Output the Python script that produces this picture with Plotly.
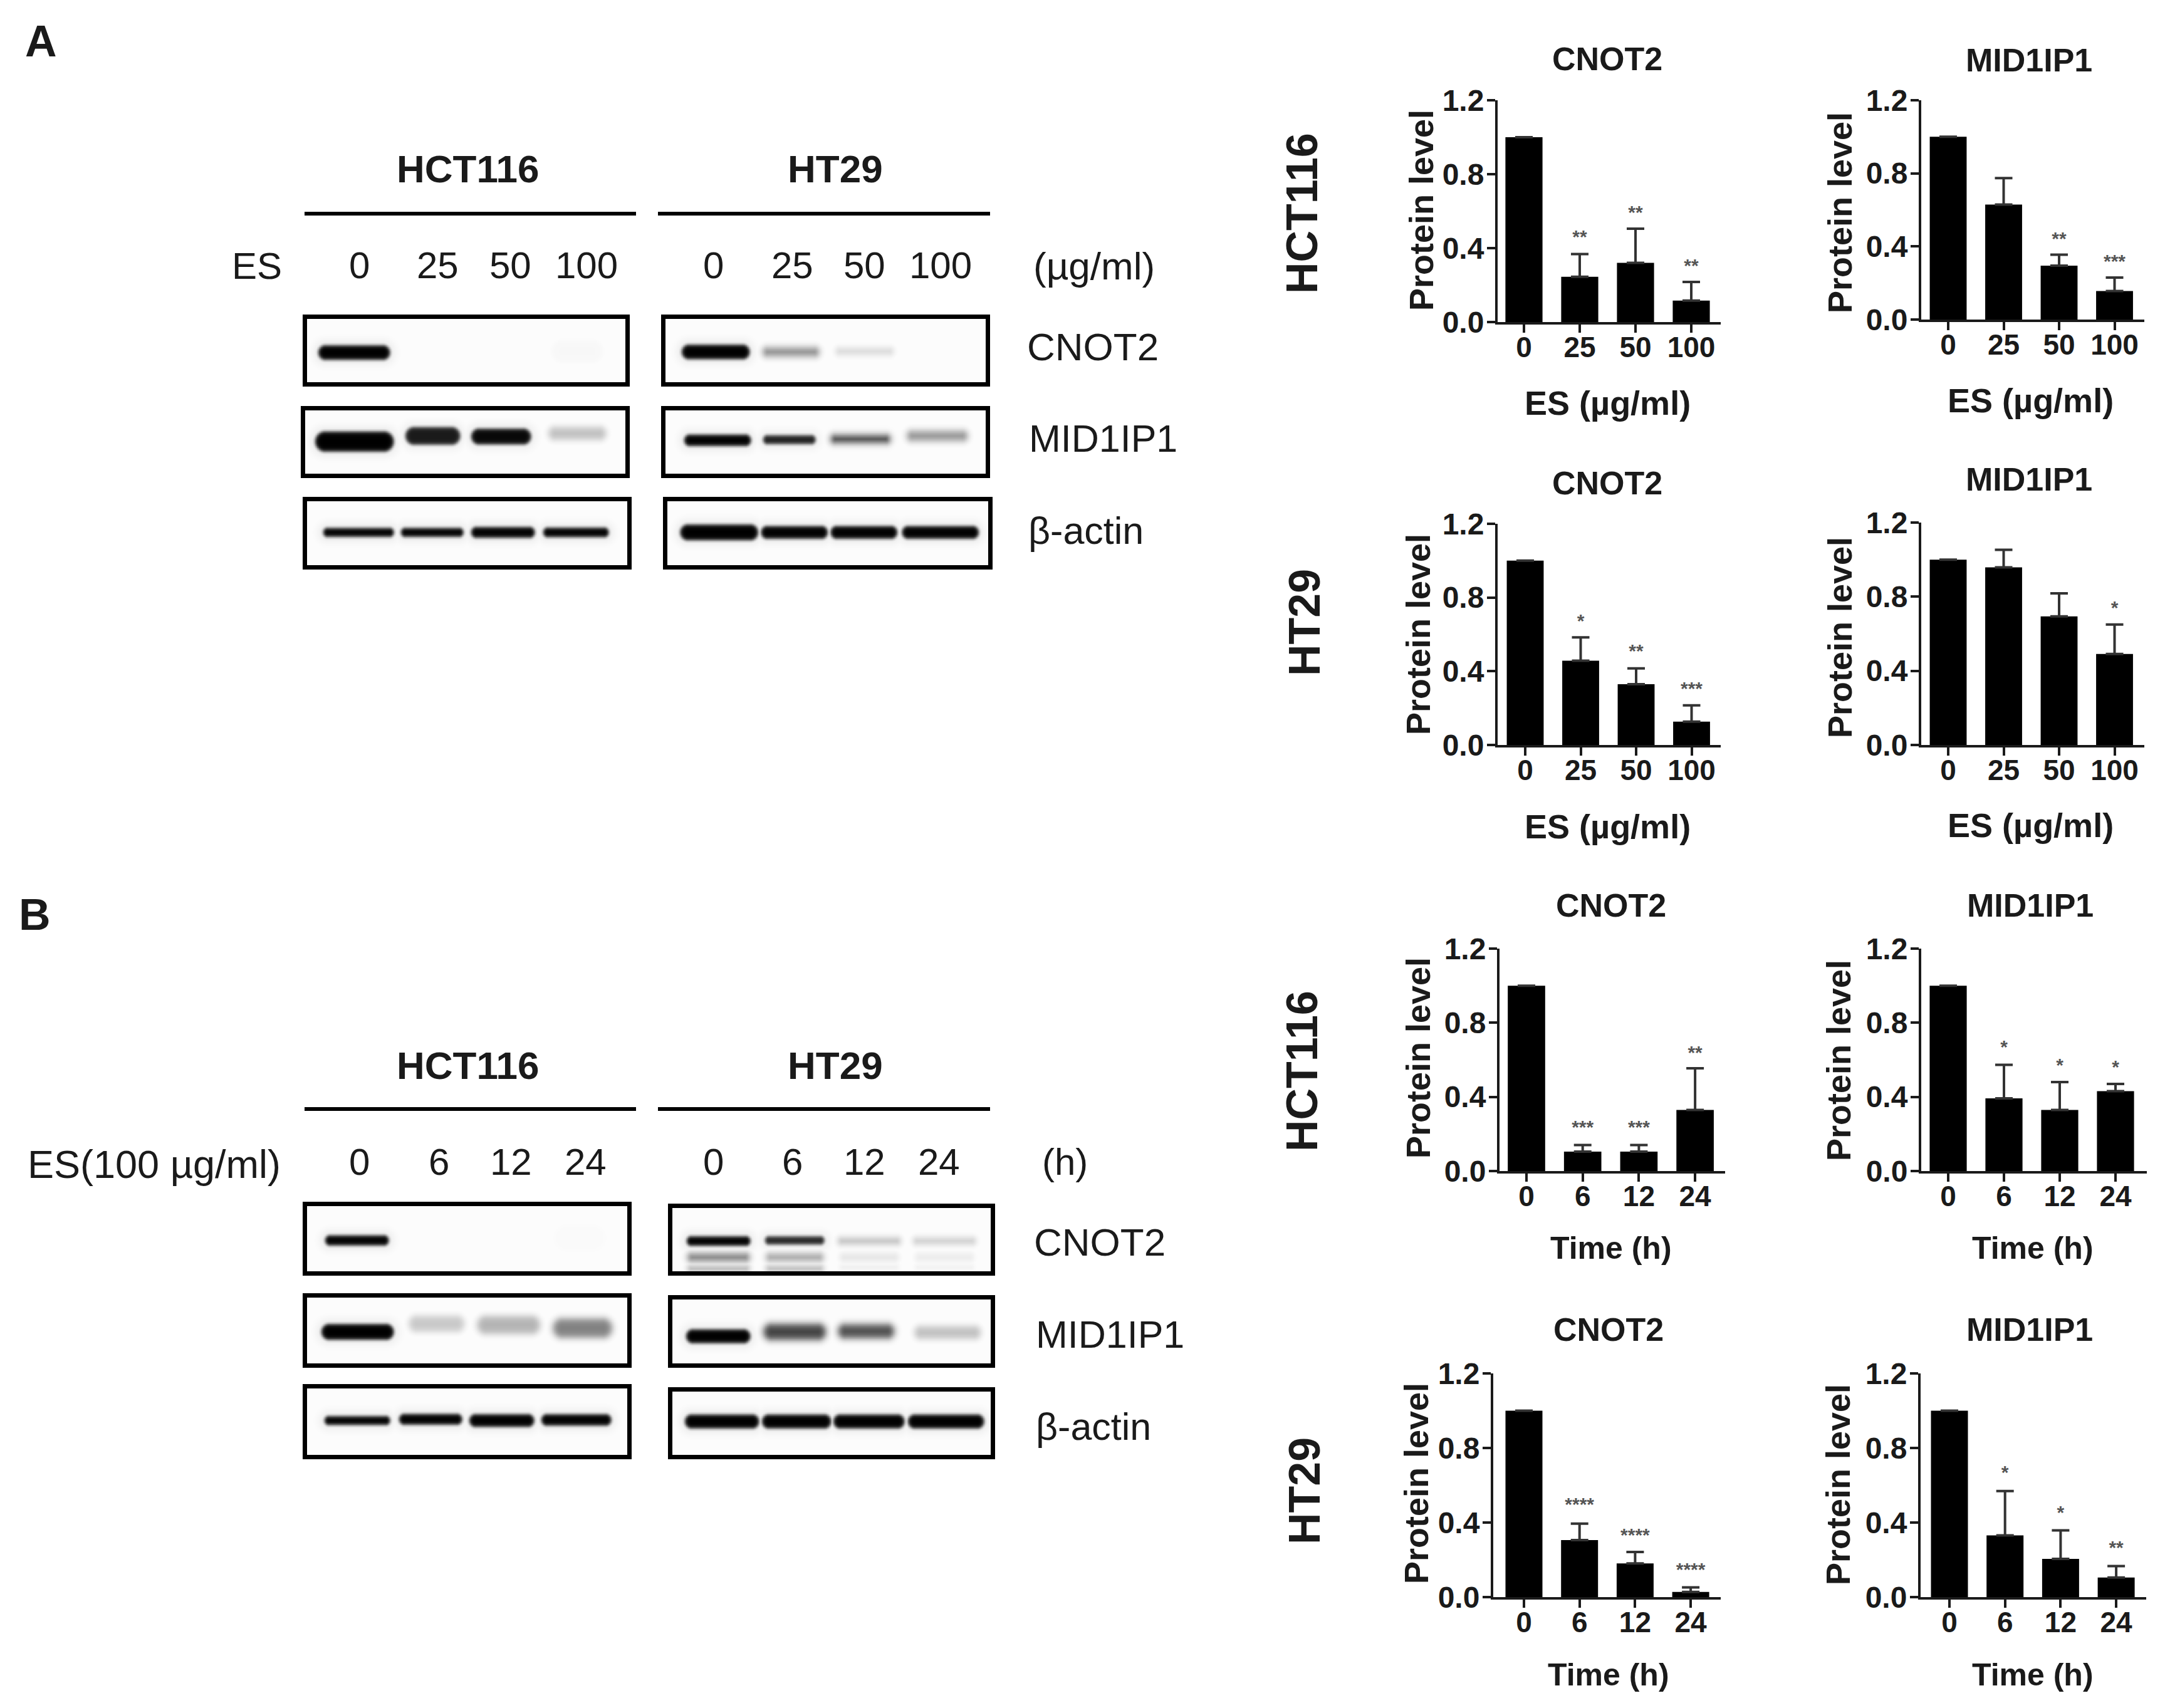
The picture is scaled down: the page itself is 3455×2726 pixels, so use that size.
import numpy as np
import plotly.graph_objects as go

W, H = 3455, 2726
PAGE_MARGIN = 8  # default body margin of the written page
FONT = "Liberation Sans"
INK = "#1a1a1a"

# --- Densitometry bars (value, top of error bar, y of the significance stars) ---
es_ticks = ["0", "25", "50", "100"]
time_ticks = ["0", "6", "12", "24"]

a_hct_cnot2_val = [1.0, 0.245, 0.32, 0.116]
a_hct_cnot2_top = [1.0, 0.368, 0.505, 0.217]
a_hct_cnot2_star = ["", "**", "**", "**"]
a_hct_cnot2_stary = [None, 0.463, 0.596, 0.309]

a_hct_mid_val = [1.0, 0.629, 0.295, 0.156]
a_hct_mid_top = [1.0, 0.774, 0.355, 0.23]
a_hct_mid_star = ["", "", "**", "***"]
a_hct_mid_stary = [None, None, 0.447, 0.324]

a_ht_cnot2_val = [1.0, 0.457, 0.33, 0.127]
a_ht_cnot2_top = [1.0, 0.584, 0.416, 0.215]
a_ht_cnot2_star = ["", "*", "**", "***"]
a_ht_cnot2_stary = [None, 0.675, 0.513, 0.311]

a_ht_mid_val = [1.0, 0.958, 0.694, 0.491]
a_ht_mid_top = [1.0, 1.053, 0.818, 0.65]
a_ht_mid_star = ["", "", "", "*"]
a_ht_mid_stary = [None, None, None, 0.745]

b_hct_cnot2_val = [1.0, 0.105, 0.105, 0.33]
b_hct_cnot2_top = [1.0, 0.14, 0.14, 0.554]
b_hct_cnot2_star = ["", "***", "***", "**"]
b_hct_cnot2_stary = [None, 0.239, 0.239, 0.643]

b_hct_mid_val = [1.0, 0.392, 0.33, 0.431]
b_hct_mid_top = [1.0, 0.573, 0.48, 0.47]
b_hct_mid_star = ["", "*", "*", "*"]
b_hct_mid_stary = [None, 0.672, 0.575, 0.564]

b_ht_cnot2_val = [1.0, 0.306, 0.181, 0.028]
b_ht_cnot2_top = [1.0, 0.394, 0.242, 0.052]
b_ht_cnot2_star = ["", "****", "****", "****"]
b_ht_cnot2_stary = [None, 0.5, 0.337, 0.153]

b_ht_mid_val = [1.0, 0.331, 0.205, 0.105]
b_ht_mid_top = [1.0, 0.569, 0.358, 0.166]
b_ht_mid_star = ["", "*", "*", "**"]
b_ht_mid_stary = [None, 0.671, 0.458, 0.269]

# --- Blot band intensities, one per lane (0 = nothing, 1 = saturated) ---
a_hct_cnot2_bands = [1.0, 0.0, 0.0, 0.03]
a_hct_mid_bands = [1.0, 0.9, 0.97, 0.25]
a_hct_actin_bands = [1.0, 1.0, 1.0, 1.0]
a_ht_cnot2_bands = [1.0, 0.45, 0.15, 0.0]
a_ht_mid_bands = [1.0, 0.88, 0.75, 0.42]
a_ht_actin_bands = [1.0, 1.0, 1.0, 1.0]
b_hct_cnot2_bands = [1.0, 0.0, 0.0, 0.02]
b_hct_mid_bands = [1.0, 0.22, 0.3, 0.5]
b_hct_actin_bands = [1.0, 1.0, 1.0, 1.0]
b_ht_cnot2_bands = [1.0, 0.85, 0.25, 0.2]
b_ht_cnot2_lower = [0.5, 0.35, 0.1, 0.08]
b_ht_cnot2_lowest = [0.3, 0.28, 0.07, 0.06]
b_ht_mid_bands = [1.0, 0.75, 0.7, 0.25]
b_ht_actin_bands = [1.0, 1.0, 1.0, 1.0]

# --- Geometry in image pixels ---
# axis x, top y, bottom y, right x, first bar centre, bar step
CHARTS = [
    (a_hct_cnot2_val, a_hct_cnot2_top, a_hct_cnot2_star, a_hct_cnot2_stary, es_ticks, "CNOT2", "ES (µg/ml)",
     (2390, 160, 514, 2746, 2432, 89), (2565, 94), (2268, 336), (2565, 643)),
    (a_hct_mid_val, a_hct_mid_top, a_hct_mid_star, a_hct_mid_stary, es_ticks, "MID1IP1", "ES (µg/ml)",
     (3066, 160, 510, 3422, 3109, 88.5), (3238, 96), (2936, 340), (3240, 639)),
    (a_ht_cnot2_val, a_ht_cnot2_top, a_ht_cnot2_star, a_ht_cnot2_stary, es_ticks, "CNOT2", "ES (µg/ml)",
     (2390, 836, 1189, 2746, 2434, 88.5), (2565, 771), (2263, 1013), (2565, 1319)),
    (a_ht_mid_val, a_ht_mid_top, a_ht_mid_star, a_ht_mid_stary, es_ticks, "MID1IP1", "ES (µg/ml)",
     (3066, 834, 1189, 3422, 3109, 88.5), (3238, 765), (2936, 1018), (3240, 1317)),
    (b_hct_cnot2_val, b_hct_cnot2_top, b_hct_cnot2_star, b_hct_cnot2_stary, time_ticks, "CNOT2", "Time (h)",
     (2393, 1514, 1869, 2753, 2436, 89.7), (2571, 1445), (2263, 1689), (2571, 1992)),
    (b_hct_mid_val, b_hct_mid_top, b_hct_mid_star, b_hct_mid_stary, time_ticks, "MID1IP1", "Time (h)",
     (3066, 1514, 1869, 3426, 3109, 89), (3240, 1445), (2934, 1693), (3244, 1992)),
    (b_ht_cnot2_val, b_ht_cnot2_top, b_ht_cnot2_star, b_ht_cnot2_stary, time_ticks, "CNOT2", "Time (h)",
     (2383, 2192, 2549, 2746, 2432, 88.7), (2567, 2122), (2260, 2368), (2567, 2673)),
    (b_ht_mid_val, b_ht_mid_top, b_ht_mid_star, b_ht_mid_stary, time_ticks, "MID1IP1", "Time (h)",
     (3065, 2192, 2549, 3425, 3111, 88.7), (3239, 2122), (2933, 2370), (3244, 2673)),
]

# outer frame (x0, y0, x1, y1), then rows of (levels, lanes) with lanes as (x0, x1, y centre, thickness)
BLOTS = [
    ((483, 502, 1005, 617), [(a_hct_cnot2_bands, [(508, 622, 562, 23), (649, 732, 562, 20), (754, 845, 562, 20), (878, 964, 560, 40)])]),
    ((480, 648, 1005, 763), [(a_hct_mid_bands, [(503, 628, 704, 32), (647, 734, 695, 28), (752, 847, 696, 25), (876, 966, 691, 20)])]),
    ((483, 793, 1008, 909), [(a_hct_actin_bands, [(516, 628, 849, 14), (640, 739, 849, 14), (752, 853, 849, 17), (867, 971, 849, 15)])]),
    ((1055, 502, 1580, 617), [(a_ht_cnot2_bands, [(1088, 1196, 561, 23), (1218, 1306, 561, 14), (1334, 1425, 560, 12), (1450, 1541, 560, 12)])]),
    ((1055, 648, 1580, 763), [(a_ht_mid_bands, [(1092, 1198, 702, 18), (1218, 1301, 701, 14), (1327, 1419, 700, 12), (1448, 1543, 695, 16)])]),
    ((1058, 793, 1584, 909), [(a_ht_actin_bands, [(1085, 1209, 849, 25), (1214, 1320, 849, 20), (1325, 1431, 849, 20), (1439, 1561, 849, 20)])]),
    ((483, 1918, 1008, 2036), [(b_hct_cnot2_bands, [(519, 620, 1979, 16), (640, 730, 1979, 16), (760, 850, 1979, 16), (880, 970, 1975, 50)])]),
    ((483, 2064, 1008, 2183), [(b_hct_mid_bands, [(513, 628, 2125, 25), (653, 740, 2112, 25), (762, 861, 2114, 28), (883, 976, 2119, 30)])]),
    ((483, 2209, 1008, 2329), [(b_hct_actin_bands, [(518, 622, 2267, 14), (637, 737, 2265, 17), (749, 852, 2267, 20), (864, 975, 2266, 18)])]),
    ((1066, 1921, 1588, 2036), [
        (b_ht_cnot2_bands, [(1096, 1197, 1980, 15), (1221, 1315, 1979, 13), (1338, 1436, 1980, 11), (1458, 1556, 1980, 11)]),
        (b_ht_cnot2_lower, [(1098, 1195, 2006, 13), (1223, 1313, 2006, 13), (1340, 1434, 2006, 15), (1460, 1554, 2006, 15)]),
        (b_ht_cnot2_lowest, [(1098, 1195, 2024, 10), (1223, 1313, 2024, 10), (1340, 1434, 2022, 10), (1460, 1554, 2022, 10)]),
    ]),
    ((1066, 2067, 1588, 2183), [(b_ht_mid_bands, [(1095, 1197, 2132, 22), (1219, 1317, 2125, 25), (1338, 1426, 2124, 22), (1460, 1564, 2126, 20)])]),
    ((1066, 2214, 1588, 2329), [(b_ht_actin_bands, [(1093, 1211, 2268, 22), (1216, 1326, 2268, 22), (1330, 1443, 2268, 22), (1449, 1570, 2268, 22)])]),
]

RULES = [(486, 1015, 341), (1050, 1580, 341), (486, 1015, 1770), (1050, 1580, 1770)]

# text, x, y, size, bold, rotated
TEXTS = [
    ("A", 66, 66, 70, True, 0), ("B", 55, 1460, 70, True, 0),
    ("HCT116", 746, 270, 62, True, 0), ("HT29", 1333, 270, 62, True, 0),
    ("HCT116", 746, 1700, 62, True, 0), ("HT29", 1333, 1700, 62, True, 0),
    ("ES", 410, 425, 60, False, 0), ("(µg/ml)", 1746, 424, 62, False, 0),
    ("ES(100 µg/ml)", 246, 1858, 63, False, 0), ("(h)", 1699, 1855, 60, False, 0),
    ("0", 573, 423, 60, False, 0), ("25", 698, 423, 60, False, 0), ("50", 814, 423, 60, False, 0), ("100", 936, 423, 60, False, 0),
    ("0", 1138, 423, 60, False, 0), ("25", 1264, 423, 60, False, 0), ("50", 1379, 423, 60, False, 0), ("100", 1501, 423, 60, False, 0),
    ("0", 573, 1854, 60, False, 0), ("6", 700, 1854, 60, False, 0), ("12", 815, 1854, 60, False, 0), ("24", 934, 1854, 60, False, 0),
    ("0", 1138, 1854, 60, False, 0), ("6", 1264, 1854, 60, False, 0), ("12", 1379, 1854, 60, False, 0), ("24", 1498, 1854, 60, False, 0),
    ("CNOT2", 1744, 553, 62, False, 0), ("MID1IP1", 1760, 700, 61, False, 0), ("β-actin", 1733, 847, 61, False, 0),
    ("CNOT2", 1755, 1982, 62, False, 0), ("MID1IP1", 1772, 2130, 61, False, 0), ("β-actin", 1745, 2277, 61, False, 0),
    ("HCT116", 2078, 341, 70, True, -90), ("HT29", 2082, 994, 70, True, -90),
    ("HCT116", 2078, 1710, 70, True, -90), ("HT29", 2082, 2380, 70, True, -90),
]


def xp(x):
    return (x - PAGE_MARGIN) / W


def yp(y):
    return 1 - (y - PAGE_MARGIN) / H


def label(text, x, y, size, bold=True, angle=0):
    return dict(text=text, x=xp(x), y=yp(y), xref="paper", yref="paper", showarrow=False,
                xanchor="center", yanchor="middle", textangle=angle,
                font=dict(family=FONT, size=size, color=INK, weight=700 if bold else 400))


def blot_image(frame, rows, lw):
    """Paint the lane intensities on a pixel grid, soft like a scanned film."""
    x0, y0, x1, y1 = frame
    xs = np.arange(x0 + lw, x1 - lw + 1, 1.5)
    ys = np.arange(y0 + lw, y1 - lw + 1, 1.5)
    xx, yy = np.meshgrid(xs, ys)
    z = np.full(xx.shape, 0.012)
    for levels, lanes in rows:
        for level, (bx0, bx1, yc, thick) in zip(levels, lanes):
            if level <= 0:
                continue
            # each band is a blurred capsule
            r = thick / 2
            dx = np.maximum(np.maximum(bx0 + r - xx, xx - (bx1 - r)), 0)
            dist = np.hypot(dx, yy - yc) - r
            soft = 1.8 if level > 0.8 else 3.5
            core = 1 / (1 + np.exp(np.clip(dist / soft, -30, 30)))
            halo = 0.1 * level * np.exp(-np.clip(dist, 0, None) / 9)
            z = np.maximum(z, np.maximum(level * core, halo))
    return xs, ys, z


fig = go.Figure()
layout_axes = {}
annotations = [label(*t) for t in TEXTS]
shapes = [dict(type="line", xref="paper", yref="paper", x0=xp(a), x1=xp(b), y0=yp(y), y1=yp(y),
               line=dict(color="black", width=6)) for a, b, y in RULES]
n = 2

# --- Blots ---
LW = 7
for frame, rows in BLOTS:
    xs, ys, z = blot_image(frame, rows, LW)
    fig.add_trace(go.Heatmap(x=xs, y=ys, z=z, zmin=0, zmax=1, zsmooth="best", showscale=False,
                             colorscale=[[0, "white"], [1, "black"]], hoverinfo="skip",
                             xaxis=f"x{n}", yaxis=f"y{n}"))
    x0, y0, x1, y1 = frame
    layout_axes[f"xaxis{n}"] = dict(domain=[xp(x0 + LW), xp(x1 - LW)], anchor=f"y{n}", range=[xs[0], xs[-1]],
                                    showticklabels=False, ticks="", showgrid=False, zeroline=False, automargin=False,
                                    showline=True, mirror=True, linecolor="black", linewidth=LW)
    layout_axes[f"yaxis{n}"] = dict(domain=[yp(y1 - LW), yp(y0 + LW)], anchor=f"x{n}", range=[ys[-1], ys[0]],
                                    showticklabels=False, ticks="", showgrid=False, zeroline=False, automargin=False,
                                    showline=True, mirror=True, linecolor="black", linewidth=LW)
    n += 1

# --- Bar charts ---
for val, top, star, stary, ticks, title, xlabel, geo, t_pos, y_pos, x_pos in CHARTS:
    ax, ty, by, rx, c0, step = geo
    idx = list(range(len(val)))
    # first bar is the reference sample and has no error bar
    err = [None if a == b else round(a - b, 3) for a, b in zip(top, val)]
    minus = [None if e is None else 0 for e in err]
    fig.add_trace(go.Bar(x=idx, y=val, width=0.665, marker=dict(color="black", line=dict(width=0)),
                         error_y=dict(type="data", symmetric=False, array=err, arrayminus=minus,
                                      color="#333333", thickness=4, width=14),
                         xaxis=f"x{n}", yaxis=f"y{n}", hoverinfo="skip"))
    # glyph sits high in its box, pull it down to where the star was read
    star_pos = [None if s is None else s - 0.012 for s in stary]
    fig.add_trace(go.Scatter(x=idx, y=star_pos, text=star, mode="text", textposition="middle center",
                             textfont=dict(family=FONT, size=30, color="#555555", weight=700),
                             xaxis=f"x{n}", yaxis=f"y{n}", hoverinfo="skip"))
    layout_axes[f"xaxis{n}"] = dict(domain=[xp(ax), xp(rx)], anchor=f"y{n}", automargin=False,
                                    range=[(ax - c0) / step, (rx - c0) / step],
                                    tickmode="array", tickvals=idx, ticktext=ticks, ticks="outside",
                                    ticklen=13, tickwidth=4, tickcolor=INK, showgrid=False, zeroline=False,
                                    showline=True, linecolor=INK, linewidth=4, ticklabelstandoff=-16,
                                    tickfont=dict(family=FONT, size=46, color=INK, weight=700))
    layout_axes[f"yaxis{n}"] = dict(domain=[yp(by), yp(ty)], anchor=f"x{n}", range=[0, 1.2], automargin=False,
                                    tickmode="array", tickvals=[0, 0.4, 0.8, 1.2], ticktext=["0.0", "0.4", "0.8", "1.2"],
                                    ticks="outside", ticklen=13, tickwidth=4, tickcolor=INK, showgrid=False,
                                    zeroline=False, showline=True, linecolor=INK, linewidth=4, ticklabelstandoff=-5,
                                    tickfont=dict(family=FONT, size=48, color=INK, weight=700))
    annotations.append(label(title, t_pos[0], t_pos[1], 52))
    annotations.append(label("Protein level", y_pos[0], y_pos[1], 54, True, -90))
    annotations.append(label(xlabel, x_pos[0], x_pos[1], 54 if xlabel.startswith("ES") else 50))
    n += 1

fig.update_layout(width=W, height=H, margin=dict(l=0, r=0, t=0, b=0), paper_bgcolor="white", plot_bgcolor="white",
                  showlegend=False, annotations=annotations, shapes=shapes, **layout_axes)

fig.write_html("out.html")
